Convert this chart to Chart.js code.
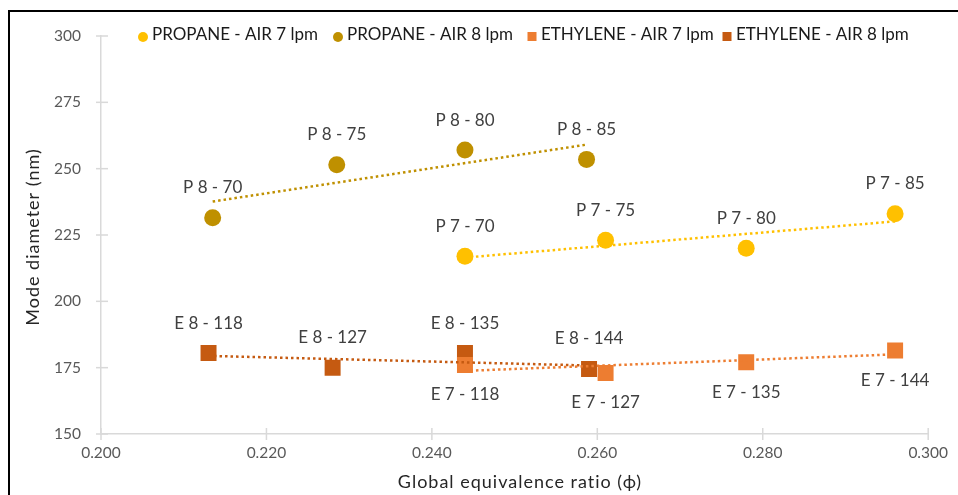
<!DOCTYPE html>
<html>
<head>
    <meta charset="utf-8" />
    <title>Mode diameter vs global equivalence ratio</title>
    <style>
        body { margin: 0; background: #fff; }
        .chart-container { position: relative; width: 958px; height: 495px; }
    </style>
    <script src="https://cdn.jsdelivr.net/npm/chart.js"></script>
</head>
<body>
    <div class="chart-container">
        <canvas id="chartMode" width="958" height="495"></canvas>
    </div>

    <script>
        // values
        const seriesNames = ['PROPANE - AIR 7 lpm', 'PROPANE - AIR 8 lpm', 'ETHYLENE - AIR 7 lpm', 'ETHYLENE - AIR 8 lpm'];

        const p7Phi = [0.244, 0.261, 0.278, 0.296];
        const p7Diam = [217, 223, 220, 233];
        const p7Labels = ['P 7 - 70', 'P 7 - 75', 'P 7 - 80', 'P 7 - 85'];

        const p8Phi = [0.2135, 0.2285, 0.244, 0.2587];
        const p8Diam = [231.5, 251.5, 257, 253.5];
        const p8Labels = ['P 8 - 70', 'P 8 - 75', 'P 8 - 80', 'P 8 - 85'];

        const e7Phi = [0.244, 0.261, 0.278, 0.296];
        const e7Diam = [176, 173, 177, 181.5];
        const e7Labels = ['E 7 - 118', 'E 7 - 127', 'E 7 - 135', 'E 7 - 144'];

        const e8Phi = [0.213, 0.228, 0.244, 0.259];
        const e8Diam = [180.5, 175, 180.5, 174.5];
        const e8Labels = ['E 8 - 118', 'E 8 - 127', 'E 8 - 135', 'E 8 - 144'];

        const colors = ['#FFC000', '#BF9000', '#ED7D31', '#C55A11'];
        const FONT = 'Lato, "Open Sans", sans-serif';

        function toPoints(xs, ys) {
            return xs.map((x, i) => ({ x, y: ys[i] }));
        }

        // linear least-squares trendline over the series' x range
        function trend(xs, ys) {
            const n = xs.length;
            const mx = xs.reduce((s, v) => s + v, 0) / n;
            const my = ys.reduce((s, v) => s + v, 0) / n;
            let sxy = 0, sxx = 0;
            xs.forEach((x, i) => { sxy += (x - mx) * (ys[i] - my); sxx += (x - mx) * (x - mx); });
            const b = sxy / sxx, a = my - b * mx;
            const x0 = Math.min(...xs), x1 = Math.max(...xs);
            return [{ x: x0, y: a + b * x0 }, { x: x1, y: a + b * x1 }];
        }

        const series = [
            { xs: p7Phi, ys: p7Diam, labels: p7Labels, style: 'circle', radius: 8.5, below: false },
            { xs: p8Phi, ys: p8Diam, labels: p8Labels, style: 'circle', radius: 8.5, below: false },
            { xs: e7Phi, ys: e7Diam, labels: e7Labels, style: 'rect', radius: 11.3, below: true },
            { xs: e8Phi, ys: e8Diam, labels: e8Labels, style: 'rect', radius: 11.3, below: false }
        ];

        const datasets = [];
        series.forEach((s, i) => {
            datasets.push({
                label: seriesNames[i],
                data: toPoints(s.xs, s.ys),
                pointStyle: s.style,
                pointRadius: s.radius,
                pointHoverRadius: s.radius,
                backgroundColor: colors[i],
                borderColor: colors[i],
                borderWidth: 0,
                showLine: false,
                order: 1
            });
        });
        series.forEach((s, i) => {
            datasets.push({
                label: 'trend ' + i,
                type: 'line',
                data: trend(s.xs, s.ys),
                borderColor: colors[i],
                borderWidth: 2.5,
                borderDash: [2.5, 3],
                pointRadius: 0,
                fill: false,
                order: 0
            });
        });

        // white background, frame, crossing tick marks, legend, titles, labels
        const decorPlugin = {
            id: 'decor',
            beforeDraw(chart) {
                const c = chart.ctx;
                c.save();
                c.fillStyle = '#fff';
                c.fillRect(0, 0, chart.width, chart.height);
                c.strokeStyle = '#000';
                c.lineWidth = 2;
                c.beginPath();
                c.moveTo(9, chart.height);
                c.lineTo(9, 11);
                c.lineTo(chart.width, 11);
                c.stroke();
                c.restore();
            },
            afterDraw(chart) {
                const c = chart.ctx;
                const xs = chart.scales.x, ys = chart.scales.y;
                const area = chart.chartArea;
                c.save();
                // tick marks crossing the axes
                c.strokeStyle = '#d9d9d9';
                c.lineWidth = 1.5;
                ys.ticks.forEach(t => {
                    const y = ys.getPixelForValue(t.value);
                    c.beginPath(); c.moveTo(area.left - 5, y); c.lineTo(area.left + 7, y); c.stroke();
                });
                xs.ticks.forEach(t => {
                    const x = xs.getPixelForValue(t.value);
                    c.beginPath(); c.moveTo(x, area.bottom - 6); c.lineTo(x, area.bottom + 6); c.stroke();
                });

                // data labels
                c.font = '17px ' + FONT;
                c.fillStyle = '#404040';
                c.textAlign = 'center';
                c.textBaseline = 'middle';
                series.forEach((s, i) => {
                    const meta = chart.getDatasetMeta(i);
                    meta.data.forEach((pt, j) => {
                        c.fillText(s.labels[j], pt.x, pt.y + (s.below ? 30 : -30));
                    });
                });

                // legend
                const legendX = [143, 338, 532, 727];
                const legendY = 35;
                c.textAlign = 'left';
                seriesNames.forEach((name, i) => {
                    c.fillStyle = colors[i];
                    if (series[i].style === 'circle') {
                        c.beginPath(); c.arc(legendX[i], legendY + 2, 5, 0, Math.PI * 2); c.fill();
                    } else {
                        c.fillRect(legendX[i] - 4.5, legendY - 3, 9, 9);
                    }
                    c.fillStyle = '#1a1a1a';
                    c.fillText(name, legendX[i] + 9, legendY);
                });

                // axis titles
                c.font = '18px ' + FONT;
                c.letterSpacing = '1px';
                c.fillStyle = '#262626';
                c.textAlign = 'center';
                c.fillText('Global equivalence ratio (\u03d5)', 520, 482);
                c.translate(33, 237);
                c.rotate(-Math.PI / 2);
                c.fillText('Mode diameter (nm)', 0, 0);
                c.restore();
            }
        };

        const ctx = document.getElementById('chartMode').getContext('2d');
        new Chart(ctx, {
            type: 'scatter',
            data: { datasets },
            options: {
                responsive: false,
                animation: false,
                layout: { padding: { top: 36, right: 27, left: 0, bottom: 0 } },
                scales: {
                    x: {
                        type: 'linear',
                        min: 0.2,
                        max: 0.3,
                        afterFit: s => { s.height = 61; },
                        afterBuildTicks: s => {
                            s.ticks = [0.2, 0.22, 0.24, 0.26, 0.28, 0.3].map(v => ({ value: v }));
                        },
                        ticks: {
                            padding: 10,
                            color: '#595959',
                            font: { family: FONT, size: 15.5 },
                            callback: v => Number(v).toFixed(3),
                            maxRotation: 0
                        },
                        grid: { drawOnChartArea: false, drawTicks: false },
                        border: { color: '#d9d9d9', width: 1.5 }
                    },
                    y: {
                        min: 150,
                        max: 300,
                        afterFit: s => { s.width = 101; },
                        ticks: {
                            stepSize: 25,
                            padding: 20,
                            color: '#595959',
                            font: { family: FONT, size: 15.5 }
                        },
                        grid: { drawOnChartArea: false, drawTicks: false },
                        border: { color: '#d9d9d9', width: 1.5 }
                    }
                },
                plugins: {
                    legend: { display: false },
                    tooltip: { enabled: false }
                }
            },
            plugins: [decorPlugin]
        });
    </script>
</body>
</html>
